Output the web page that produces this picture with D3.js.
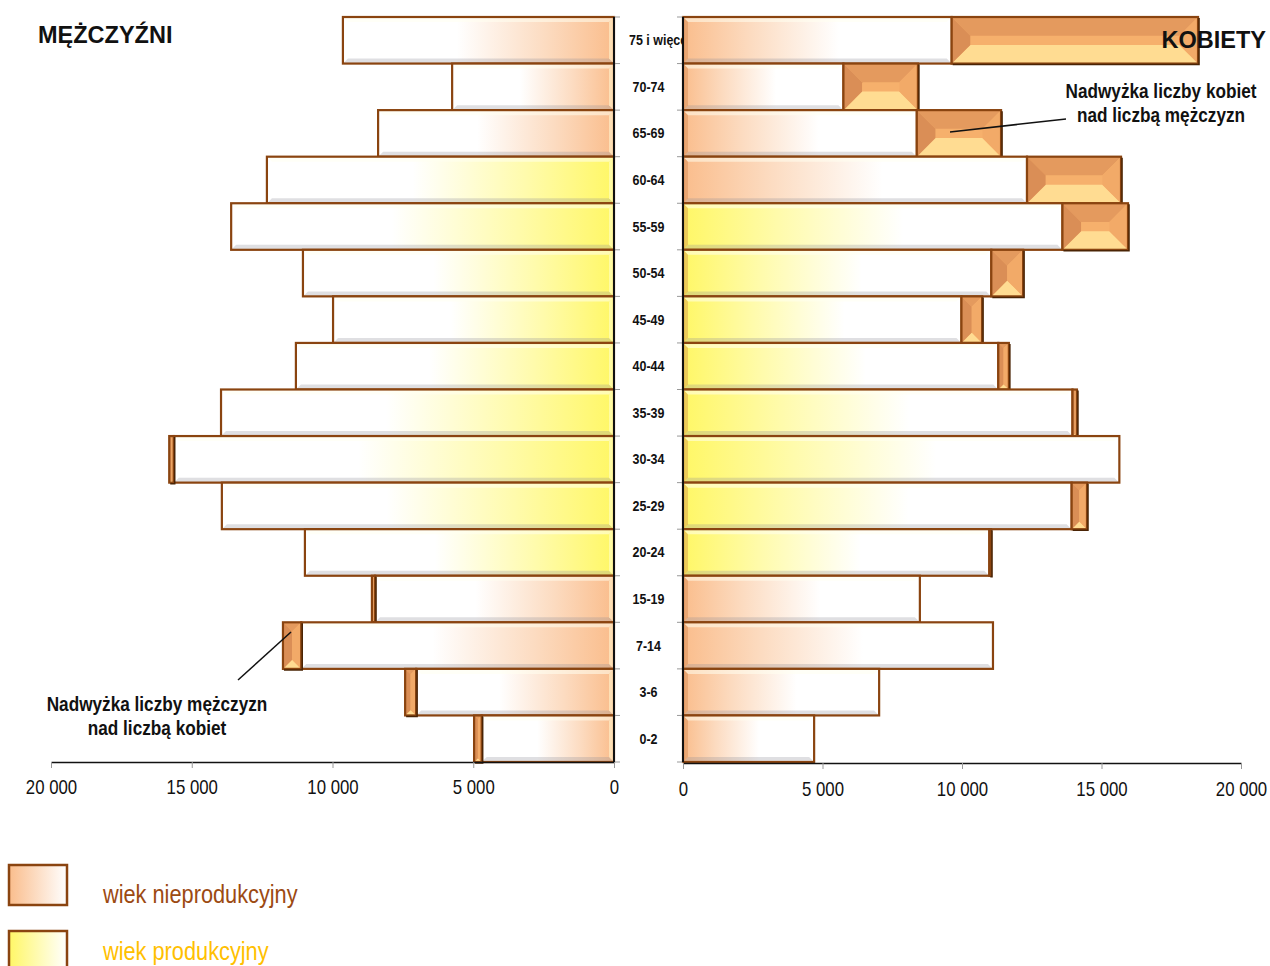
<!DOCTYPE html>
<html>
<head>
<meta charset="utf-8">
<script src="https://cdn.jsdelivr.net/npm/d3@7"></script>
<style>
  body { margin: 0; background: #fff; }
  svg { display: block; font-family: "Liberation Sans", Arial, sans-serif; }
</style>
</head>
<body>
<div id="chart"></div>
<script>
// age groups from top to bottom
const ages = ["75 i więcej", "70-74", "65-69", "60-64", "55-59", "50-54", "45-49", "40-44",
              "35-39", "30-34", "25-29", "20-24", "15-19", "7-14", "3-6", "0-2"];
const men   = [9630, 5750, 8380, 12330, 13600, 11050, 9980, 11300, 13960, 15800, 13930, 10980, 8600, 11760, 7420, 4970];
const women = [18460, 8420, 11400, 15700, 15950, 12190, 10720, 11680, 14120, 15640, 14480, 11040, 8490, 11110, 7030, 4700];
// working age: men 20-64, women 20-59
const menWorking   = ["60-64", "55-59", "50-54", "45-49", "40-44", "35-39", "30-34", "25-29", "20-24"];
const womenWorking = ["55-59", "50-54", "45-49", "40-44", "35-39", "30-34", "25-29", "20-24"];
const xTicks = [0, 5000, 10000, 15000, 20000];
const legendItems = ["wiek nieprodukcyjny", "wiek produkcyjny"];

const W = 1270, H = 966;
const svg = d3.select("#chart").append("svg").attr("width", W).attr("height", H);

const y = d3.scaleBand().domain(ages).range([17, 762]).padding(0);
const xL = d3.scaleLinear().domain([0, 20000]).range([614, 51]);
const xR = d3.scaleLinear().domain([0, 20000]).range([683, 1241]);

const peach = "#FABD8C", yellow = "#FFF766";
const edge = "#8A4410";

// gradients
const defs = svg.append("defs");
function grad(id, c, reverse) {
  const g = defs.append("linearGradient").attr("id", id)
    .attr("x1", reverse ? "100%" : "0%").attr("x2", reverse ? "0%" : "100%")
    .attr("y1", "0%").attr("y2", "0%");
  g.append("stop").attr("offset", "0%").attr("stop-color", c);
  g.append("stop").attr("offset", "25%").attr("stop-color", d3.interpolateRgb(c, "#fff")(0.45));
  g.append("stop").attr("offset", "58%").attr("stop-color", "#fff");
  g.append("stop").attr("offset", "100%").attr("stop-color", "#fff");
}
grad("gLP", peach, true);
grad("gLY", yellow, true);
grad("gRP", peach, false);
grad("gRY", yellow, false);
const lg1 = defs.append("linearGradient").attr("id", "legP");
lg1.append("stop").attr("offset", "0%").attr("stop-color", peach);
lg1.append("stop").attr("offset", "100%").attr("stop-color", "#fff");
const lg2 = defs.append("linearGradient").attr("id", "legY");
lg2.append("stop").attr("offset", "0%").attr("stop-color", yellow);
lg2.append("stop").attr("offset", "100%").attr("stop-color", "#fff");

function poly(g, pts, fill) {
  g.append("polygon").attr("points", pts.map(p => p.join(",")).join(" ")).attr("fill", fill);
}

// condensed text (no narrow font installed, so squeeze horizontally)
function ntext(g, x, yy, s, size, opts = {}) {
  return g.append("text")
    .attr("transform", `translate(${x},${yy}) scale(${opts.sx || 0.85},1)`)
    .attr("text-anchor", opts.anchor || "start")
    .attr("font-size", size).attr("font-weight", opts.bold ? "bold" : "normal")
    .attr("fill", opts.fill || "#111").text(s);
}

// plain bar with light bevel
function baseBar(g, x, yy, w, h, fillId, outerLeft) {
  g.append("rect").attr("x", x).attr("y", yy).attr("width", w).attr("height", h)
    .attr("fill", `url(#${fillId})`);
  const b = 5;
  poly(g, [[x, yy + h], [x + w, yy + h], [x + w - b, yy + h - b], [x + b, yy + h - b]], "rgba(140,140,150,0.28)");
  poly(g, [[x, yy], [x + w, yy], [x + w - b, yy + b], [x + b, yy + b]], "rgba(255,255,240,0.55)");
  if (outerLeft) poly(g, [[x + w, yy], [x + w - b, yy + b], [x + w - b, yy + h - b], [x + w, yy + h]], "rgba(255,255,220,0.5)");
  else poly(g, [[x, yy], [x + b, yy + b], [x + b, yy + h - b], [x, yy + h]], "rgba(200,120,60,0.35)");
  g.append("rect").attr("x", x).attr("y", yy).attr("width", w).attr("height", h)
    .attr("fill", "none").attr("stroke", edge).attr("stroke-width", 2.2);
}

// surplus block with pyramid bevel
function surplusBar(g, x, yy, w, h) {
  if (w < 0.8) return;
  const b = Math.min(h * 0.4, w / 2);
  g.append("rect").attr("x", x).attr("y", yy).attr("width", w).attr("height", h).attr("fill", "#F6B06C");
  poly(g, [[x, yy], [x + w, yy], [x + w - b, yy + b], [x + b, yy + b]], "#E49A5E");
  poly(g, [[x, yy + h], [x + w, yy + h], [x + w - b, yy + h - b], [x + b, yy + h - b]], "#FFDC92");
  poly(g, [[x, yy], [x + b, yy + b], [x + b, yy + h - b], [x, yy + h]], "#DA8E56");
  poly(g, [[x + w, yy], [x + w - b, yy + b], [x + w - b, yy + h - b], [x + w, yy + h]], "#F2AA68");
  g.append("rect").attr("x", x).attr("y", yy).attr("width", w).attr("height", h)
    .attr("fill", "none").attr("stroke", edge).attr("stroke-width", 2.2);
  g.append("path").attr("d", `M${x + w + 1},${yy + 1}V${yy + h + 1}H${x + 1}`)
    .attr("fill", "none").attr("stroke", "#4A2405").attr("stroke-width", 1.5);
}

const gL = svg.append("g"), gR = svg.append("g");
ages.forEach((a, i) => {
  const yy = y(a), h = y.bandwidth();
  const base = Math.min(men[i], women[i]);
  // men (left)
  const fL = menWorking.includes(a) ? "gLY" : "gLP";
  baseBar(gL, xL(base), yy, xL(0) - xL(base), h, fL, true);
  if (men[i] > women[i]) surplusBar(gL, xL(men[i]), yy, xL(women[i]) - xL(men[i]), h);
  // women (right)
  const fR = womenWorking.includes(a) ? "gRY" : "gRP";
  baseBar(gR, xR(0), yy, xR(base) - xR(0), h, fR, false);
  if (women[i] > men[i]) surplusBar(gR, xR(men[i]), yy, xR(women[i]) - xR(men[i]), h);
});

// category axis lines + boundary ticks
const bounds = ages.map(a => y(a)).concat([y.range()[1]]);
svg.selectAll(".tkL").data(bounds).enter().append("line")
  .attr("x1", xL(0)).attr("x2", xL(0) + 6).attr("y1", d => d).attr("y2", d => d)
  .attr("stroke", "#999").attr("stroke-width", 1);
svg.selectAll(".tkR").data(bounds).enter().append("line")
  .attr("x1", xR(0) - 6).attr("x2", xR(0)).attr("y1", d => d).attr("y2", d => d)
  .attr("stroke", "#999").attr("stroke-width", 1);
[xL(0), xR(0)].forEach(xx => {
  svg.append("line").attr("x1", xx).attr("x2", xx).attr("y1", y.range()[0]).attr("y2", y.range()[1])
    .attr("stroke", "#111").attr("stroke-width", 2);
});

// category labels (clipped at right axis)
defs.append("clipPath").attr("id", "labClip").append("rect")
  .attr("x", xL(0)).attr("y", 0).attr("width", xR(0) - xL(0) - 1).attr("height", H);
const gLab = svg.append("g").attr("clip-path", "url(#labClip)");
ages.forEach((a, i) => {
  const cy = y(a) + y.bandwidth() / 2 + 5;
  if (i === 0) ntext(gLab, 629, cy, a, 14.5, { bold: true, sx: 0.86 });
  else ntext(gLab, (xL(0) + xR(0)) / 2, cy, a, 14.5, { bold: true, sx: 0.86, anchor: "middle" });
});

// value axes
const fmt = d => d3.format(",")(d).replace(/,/g, " ");
function styleAxis(g) {
  g.attr("font-family", null);
  g.select(".domain").attr("stroke", "#111").attr("stroke-width", 1.5);
  g.selectAll(".tick line").attr("stroke", "#999");
  g.selectAll(".tick text").attr("font-size", 20).attr("fill", "#111")
    .attr("transform", "scale(0.84,1)");
}
const axL = svg.append("g").attr("transform", "translate(0,762)")
  .call(d3.axisBottom(xL).tickValues(xTicks).tickFormat(fmt).tickSize(6).tickSizeOuter(0).tickPadding(12));
styleAxis(axL);
const axR = svg.append("g").attr("transform", "translate(0,763)")
  .call(d3.axisBottom(xR).tickValues(xTicks).tickFormat(fmt).tickSize(6).tickSizeOuter(0).tickPadding(13));
styleAxis(axR);

// titles
svg.append("text").attr("x", 38).attr("y", 43)
  .attr("font-size", 23.5).attr("font-weight", "bold").attr("fill", "#111").text("MĘŻCZYŹNI");
svg.append("text").attr("x", 1266).attr("y", 48).attr("text-anchor", "end")
  .attr("font-size", 23.5).attr("font-weight", "bold").attr("fill", "#111").text("KOBIETY");

// annotations
function note(lines, cx, y0) {
  lines.forEach((t, i) => ntext(svg, cx, y0 + i * 24, t, 20, { bold: true, sx: 0.86, anchor: "middle" }));
}
note(["Nadwyżka liczby kobiet", "nad liczbą mężczyzn"], 1161, 98);
svg.append("line").attr("x1", 950).attr("y1", 132).attr("x2", 1066).attr("y2", 119)
  .attr("stroke", "#111").attr("stroke-width", 1.5);
note(["Nadwyżka liczby mężczyzn", "nad liczbą kobiet"], 157, 711);
svg.append("line").attr("x1", 238).attr("y1", 680).attr("x2", 291).attr("y2", 632)
  .attr("stroke", "#111").attr("stroke-width", 1.5);

// legend
const legColors = ["#9C4A12", "#FFC000"];
const legFills = ["legP", "legY"];
legendItems.forEach((t, i) => {
  const yy = 865 + i * 66;
  svg.append("rect").attr("x", 9).attr("y", yy).attr("width", 58).attr("height", 40)
    .attr("fill", `url(#${legFills[i]})`).attr("stroke", edge).attr("stroke-width", 2.5);
  ntext(svg, 103, yy + 38 - i * 9, t, 25, { sx: 0.87, fill: legColors[i] });
});
</script>
</body>
</html>
